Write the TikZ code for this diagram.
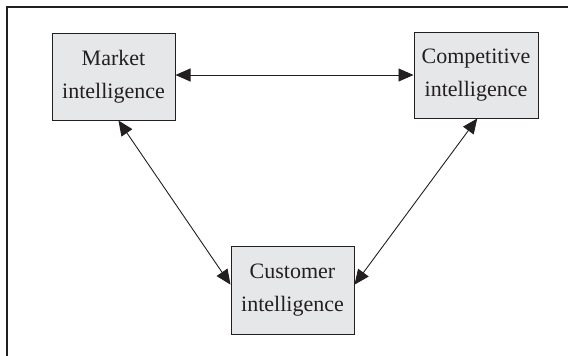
\documentclass[tikz,border=0pt]{standalone}
\usepackage{fontspec}
\setmainfont{Liberation Serif}
\usetikzlibrary{arrows.meta,calc}
\definecolor{boxfill}{HTML}{E6E7E9}
\definecolor{ink}{HTML}{231F20}
\begin{document}
\begin{tikzpicture}[x=1pt,y=-1pt,
  ibox/.style={draw=ink,line width=1pt,fill=boxfill,text=ink,align=center,
    inner sep=0pt,font=\fontsize{22}{33}\selectfont},
  link/.style={draw=ink,line width=0.9pt,
    {Triangle[length=15pt,width=13pt]}-{Triangle[length=15pt,width=13pt]}}]
  \useasboundingbox (0,0) rectangle (568,356);
  % open frame: top and left edges only
  \draw[ink,line width=1.5pt] (568,7) -- (7,7) -- (7,356);
  \node[ibox,minimum width=123pt,minimum height=87pt] (mkt) at (113.5,76.5) {Market\\intelligence};
  \node[ibox,minimum width=124pt,minimum height=86pt] (cmp) at (476,75) {Competitive\\intelligence};
  \node[ibox,minimum width=123pt,minimum height=88pt] (cus) at (292.5,290) {Customer\\intelligence};
  \draw[link] (mkt.east |- 0,75) -- (cmp.west |- 0,75);
  \draw[link] ($(mkt.south west)!0.54!(mkt.south east)$) -- ($(cus.north west)!0.44!(cus.south west)$);
  \draw[link] ($(cmp.south west)!0.51!(cmp.south east)$) -- ($(cus.north east)!0.44!(cus.south east)$);
\end{tikzpicture}
\end{document}
